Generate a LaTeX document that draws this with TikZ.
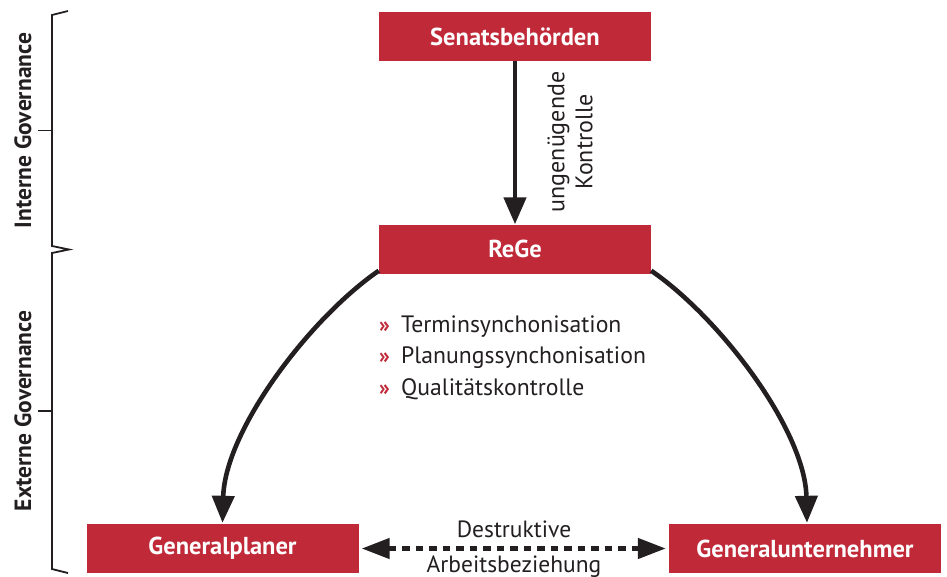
\documentclass[tikz,border=0pt]{standalone}
\usepackage{fontspec}
\setmainfont{PT Sans}
\usetikzlibrary{arrows.meta}
\definecolor{boxred}{RGB}{192,41,56}
\definecolor{ink}{RGB}{35,31,32}
\begin{document}
\begin{tikzpicture}[x=1pt,y=-1pt,
  box/.style={fill=boxred, text=white, font=\fontsize{24.5}{28}\selectfont\bfseries,
    minimum width=272pt, minimum height=49pt, inner sep=0pt},
  conn/.style={line width=4.6pt, draw=ink, -{Triangle[length=27pt,width=22pt]}},
  dconn/.style={line width=4.6pt, draw=ink, dash pattern=on 7.5pt off 6pt,
    {Triangle[length=28pt,width=20pt]}-{Triangle[length=28pt,width=20pt]}},
  lbl/.style={text=ink, font=\fontsize{23.5}{29}\selectfont, inner sep=0pt},
  klbl/.style={text=ink, font=\fontsize{24}{28}\selectfont, inner sep=0pt},
  side/.style={text=ink, font=\fontsize{23.5}{27}\selectfont\bfseries, rotate=90, inner sep=0pt},
  bul/.style={text=boxred, font=\fontsize{22}{26}\selectfont\bfseries, anchor=base west, inner sep=0pt},
  btxt/.style={text=ink, font=\fontsize{23.7}{28}\selectfont, anchor=base west, inner sep=0pt},
  brace/.style={draw=ink, line width=1.8pt, line join=miter}
]
\useasboundingbox (0,0) rectangle (947,576);

% boxes
\node[box] (sen) at (515,36.5) {Senatsbehörden};
\node[box] (rege) at (515,249) {ReGe};
\node[box] (gp) at (222.5,548.5) {Generalplaner};
\node[box] (gu) at (805,548.5) {Generalunternehmer};

% vertical arrow
\draw[conn] (sen.south) -- (rege.north);
\node[klbl, rotate=90, align=center] (kontr) at (570,142) {ungenügende\\Kontrolle};

% curved arrows
\coordinate (rl) at ([yshift=3pt]rege.south west);
\coordinate (rr) at ([yshift=3pt]rege.south east);
\draw[conn] (rl) .. controls (310,318) and (225,430) .. ([yshift=1pt]gp.north);
\draw[conn] (rr) .. controls (720,318) and (805,430) .. ([xshift=2pt,yshift=1pt]gu.north);

% bullets
\node[bul] (b1) at (379,332) {»};
\node[btxt] (t1) at (401,332) {Terminsynchonisation};
\node[bul] (b2) at (379,363.5) {»};
\node[btxt] (t2) at (401,363.5) {Planungssynchonisation};
\node[bul] (b3) at (379,395) {»};
\node[btxt] (t3) at (401,395) {Qualitätskontrolle};

% dashed relation
\draw[dconn] ([xshift=3pt]gp.east) -- ([xshift=-3pt]gu.west);
\node[lbl, anchor=base] (d1) at (514,537) {Destruktive};
\node[lbl, anchor=base] (d2) at (514,572) {Arbeitsbeziehung};

% left brackets
\draw[brace] (68,11) -- (52,15) -- (52,246) -- (69,249.5) -- (52,253) -- (52,569) -- (68,573);
\draw[brace] (38,130.5) -- (52,130.5);
\draw[brace] (38,411) -- (52,411);
\node[side] (ig) at (23,130.5) {Interne Governance};
\node[side] (eg) at (23,411) {Externe Governance};
\end{tikzpicture}
\end{document}
